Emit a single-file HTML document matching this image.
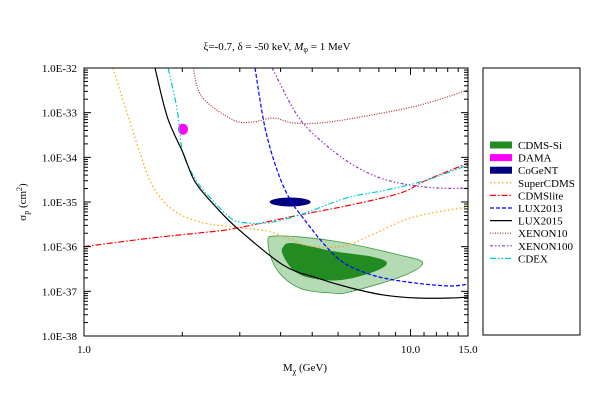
<!DOCTYPE html>
<html><head><meta charset="utf-8"><style>
body{margin:0;background:#fff}
svg{display:block;font-family:"Liberation Serif",serif}
</style></head><body>
<svg id="chart" width="600" height="420">
<rect width="600" height="420" fill="#fff"/>
<g id="marks" clip-path="url(#pc)"></g>
<defs><clipPath id="pc"><rect x="84" y="68" width="384" height="268"/></clipPath></defs>
<g id="axes"></g>
<text x="277" y="50" font-size="11" text-anchor="middle">ξ=-0.7, δ = -50 keV, <tspan font-style="italic">M</tspan><tspan font-size="8" dy="2">φ</tspan><tspan dy="-2"> = 1 MeV</tspan></text>
<text x="305" y="371" font-size="11" text-anchor="middle">M<tspan font-size="8" dy="3">χ</tspan><tspan dy="-3"> (GeV)</tspan></text>
<text transform="translate(26,202) rotate(-90)" font-size="11" text-anchor="middle">σ<tspan font-size="8" dy="3">p</tspan><tspan dy="-3"> (cm</tspan><tspan font-size="8" dy="-4">2</tspan><tspan dy="4">)</tspan></text>
<rect x="483" y="68" width="97" height="267" fill="none" stroke="#000" stroke-width="1"/>
<g id="legend"></g>
</svg>
<script>
const xTickLabels=["1.0","10.0","15.0"];
const xTickVals=[1,10,15];
const yTickLabels=["1.0E-32","1.0E-33","1.0E-34","1.0E-35","1.0E-36","1.0E-37","1.0E-38"];
const yTickVals=[-32,-33,-34,-35,-36,-37,-38];
// curves: masses (GeV) and log10 sigma
const lux2015M=[1.65,1.80,2.01,2.19,2.55,2.96,4.07,5.17,6.53,8.24,10.5,13.2,15];
const lux2015S=[-32,-33.10,-33.90,-34.55,-35.13,-35.60,-36.41,-36.70,-36.92,-37.08,-37.15,-37.15,-37.13];
const cdexM=[1.81,1.93,2.01,2.23,2.47,2.75,3.0,3.63,4.58,6.37,8.45,11.2,15];
const cdexS=[-32,-32.94,-33.90,-34.57,-34.95,-35.30,-35.45,-35.47,-35.29,-34.91,-34.73,-34.51,-34.17];
const superM=[1.227,1.354,1.484,1.627,1.873,2.27,2.86,3.64,4.27,4.92,6.22,7.68,10.2,15];
const superS=[-32,-33.0,-33.9,-34.66,-35.18,-35.45,-35.56,-35.65,-35.83,-35.99,-35.99,-35.72,-35.34,-35.11];
const liteM=[1.0,1.59,2.27,2.86,4.58,6.53,9.3,11.2,15];
const liteS=[-36.0,-35.81,-35.69,-35.60,-35.29,-35.07,-34.80,-34.51,-34.13];
const lux2013M=[3.34,3.58,3.90,4.28,4.82,5.40,6.08,6.9,8.24,10.5,13.2,15];
const lux2013S=[-32,-33.32,-34.28,-34.95,-35.47,-35.92,-36.30,-36.52,-36.70,-36.82,-36.88,-36.84];
const xe10M=[2.16,2.30,2.86,3.29,3.79,4.37,5.28,7.0,10.7,15];
const xe10S=[-32,-32.65,-33.16,-33.21,-33.12,-33.23,-33.23,-33.10,-32.83,-32.49];
const xe100M=[3.77,4.49,5.28,6.53,8.06,9.96,12.3,15];
const xe100S=[-32,-33.05,-33.61,-34.13,-34.46,-34.62,-34.69,-34.69];
const siOuterM=[3.66,3.90,5.79,9.29,10.9,9.29,6.53,5.79,4.59,3.90];
const siOuterS=[-35.92,-35.76,-35.87,-36.19,-36.37,-36.68,-37.01,-37.04,-36.93,-36.52];
const siInnerM=[4.07,4.37,5.79,7.68,8.47,7.68,6.08,4.92,4.37,4.07];
const siInnerS=[-36.01,-35.92,-36.10,-36.23,-36.37,-36.57,-36.75,-36.70,-36.52,-36.19];
const damaM=[2.01], damaS=[-33.37];
const cogentM=[4.28], cogentS=[-35.0];

const X0=84,X1=468,Y0=68,Y1=336;
const xs=m=>X0+(Math.log10(m))/Math.log10(15)*(X1-X0);
const ys=l=>Y0+(-32-l)/6*(Y1-Y0);
const NS="http://www.w3.org/2000/svg";
const marks=document.getElementById('marks'),axes=document.getElementById('axes'),leg=document.getElementById('legend');
function mk(t,p,a){const e=document.createElementNS(NS,t);for(const k in a)e.setAttribute(k,a[k]);p.appendChild(e);return e;}
function spline(pts,closed){
  const n=pts.length;let d=`M${pts[0][0]},${pts[0][1]}`;
  const g=i=>closed?pts[(i+n)%n]:pts[Math.max(0,Math.min(n-1,i))];
  const L=closed?n:n-1;
  for(let i=0;i<L;i++){const p0=g(i-1),p1=g(i),p2=g(i+1),p3=g(i+2);
    d+=`C${p1[0]+(p2[0]-p0[0])/6},${p1[1]+(p2[1]-p0[1])/6} ${p2[0]-(p3[0]-p1[0])/6},${p2[1]-(p3[1]-p1[1])/6} ${p2[0]},${p2[1]}`;}
  return d+(closed?'Z':'');
}
const pts=(M,S)=>M.map((m,i)=>[xs(m),ys(S[i])]);
let e;
e=mk('path',marks,{d:spline(pts(siOuterM,siOuterS),true),fill:'#b5dbb5',stroke:'#3a9a3a','stroke-width':0.8});

e=mk('path',marks,{d:spline(pts(siInnerM,siInnerS),true),fill:'#228b22'});

e=mk('ellipse',marks,{cx:xs(damaM[0]),cy:ys(damaS[0]),rx:5,ry:5.5,fill:'#ff00ff'});

e=mk('ellipse',marks,{cx:xs(cogentM[0]),cy:ys(cogentS[0]),rx:20.5,ry:4.5,fill:'#000080'});

const series=[
 ['supercdms-curve',superM,superS,'#ffa500','1.5 2.5'],
 ['cdmslite-curve',liteM,liteS,'#ff0000','6 2 1.5 2'],
 ['lux2013-curve',lux2013M,lux2013S,'#0000ff','4 2'],
 ['xenon10-curve',xe10M,xe10S,'#a52a2a','1 1.5'],
 ['xenon100-curve',xe100M,xe100S,'#9932cc','3 2 1.5 2 1.5 2'],
 ['cdex-curve',cdexM,cdexS,'#00cccc','6 2 1.5 2 1.5 2'],
 ['lux2015-curve',lux2015M,lux2015S,'#000000','']];
series.forEach(s=>{e=mk('path',marks,{d:spline(pts(s[1],s[2]),false),fill:'none',stroke:s[3],'stroke-width':1.2,'stroke-dasharray':s[4]});
 });
// axes
e=mk('rect',axes,{x:X0,y:Y0,width:X1-X0,height:Y1-Y0,fill:'none',stroke:'#000','stroke-width':1});

for(let m=1;m<=15;m++){const x=xs(m),big=(m===1||m===10);const l=big?7:4;
 mk('line',axes,{x1:x,x2:x,y1:Y1,y2:Y1-l,stroke:'#000'});mk('line',axes,{x1:x,x2:x,y1:Y0,y2:Y0+l,stroke:'#000'});}
for(let dlog=-38;dlog<-32;dlog++){for(let k=1;k<10;k++){const y=ys(dlog+Math.log10(k));const l=k===1?7:4;
 mk('line',axes,{x1:X0,x2:X0+l,y1:y,y2:y,stroke:'#000'});mk('line',axes,{x1:X1,x2:X1-l,y1:y,y2:y,stroke:'#000'});}}
xTickVals.forEach((v,i)=>{e=mk('text',axes,{x:xs(v),y:353,'font-size':11,'text-anchor':'middle'});e.textContent=xTickLabels[i];
 });
yTickVals.forEach((v,i)=>{e=mk('text',axes,{x:77,y:ys(v)+4,'font-size':11,'text-anchor':'end'});e.textContent=yTickLabels[i];
 });
// legend
const legNames=['CDMS-Si','DAMA','CoGeNT','SuperCDMS','CDMSlite','LUX2013','LUX2015','XENON10','XENON100','CDEX'];
const legCol=['#228b22','#ff00ff','#000080','#ffa500','#ff0000','#0000ff','#000000','#a52a2a','#9932cc','#00cccc'];
const legDash=['','','','1.5 2.5','6 2 1.5 2','4 2','','1 1.5','3 2 1.5 2 1.5 2','6 2 1.5 2 1.5 2'];
legNames.forEach((n,i)=>{const y=145+i*12.6;const g=mk('g',leg,{});
 
 if(i<3)mk('rect',g,{x:490,y:y-3.5,width:22,height:7,fill:legCol[i]});
 else mk('line',g,{x1:490,x2:512,y1:y,y2:y,stroke:legCol[i],'stroke-width':1.2,'stroke-dasharray':legDash[i]});
 const t=mk('text',g,{x:518,y:y+4,'font-size':11});t.textContent=n;});
</script>
</body></html>
